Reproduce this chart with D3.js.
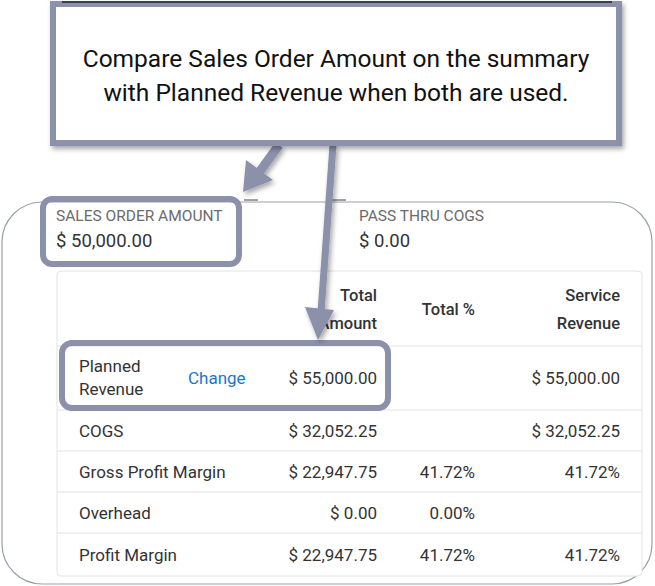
<!DOCTYPE html>
<html lang="en">
<head>
<meta charset="UTF-8">
<script src="https://d3js.org/d3.v7.min.js"></script>
<style>
  html, body { margin: 0; padding: 0; background: #fff; }
  text { font-family: Roboto, "Noto Sans", sans-serif; }
</style>
</head>
<body>
<svg id="chart" width="655" height="586"></svg>
<script>
// table data
var rowLabels = ["Planned Revenue", "COGS", "Gross Profit Margin", "Overhead", "Profit Margin"];
var totalAmount = ["$ 55,000.00", "$ 32,052.25", "$ 22,947.75", "$ 0.00", "$ 22,947.75"];
var totalPct = ["", "", "41.72%", "0.00%", "41.72%"];
var serviceRevenue = ["$ 55,000.00", "$ 32,052.25", "41.72%", "", "41.72%"];
var headers = [["Total", "Amount"], ["Total %"], ["Service", "Revenue"]];
var summaryLabels = ["SALES ORDER AMOUNT", "PASS THRU COGS"];
var summaryValues = ["$ 50,000.00", "$ 0.00"];
var calloutLines = ["Compare Sales Order Amount on the summary", "with Planned Revenue when both are used."];

var svg = d3.select("#chart");
var accent = "#8b90ab";

var defs = svg.append("defs");
var f = defs.append("filter").attr("id", "shadow").attr("x", "-10%").attr("y", "-10%").attr("width", "130%").attr("height", "140%");
f.append("feDropShadow").attr("dx", 2).attr("dy", 3).attr("stdDeviation", 2.5).attr("flood-opacity", 0.35);

// outer card
svg.append("rect").attr("x", 2).attr("y", 202).attr("width", 650).attr("height", 382)
  .attr("rx", 40).attr("fill", "#fff").attr("stroke", "#9aa0a8").attr("stroke-width", 1.2);

// summary row
var sx = d3.scalePoint().domain(summaryLabels).range([56, 359]);
summaryLabels.forEach(function(l, i) {
  svg.append("text").attr("x", sx(l)).attr("y", 221).attr("font-size", 15.5).attr("fill", "#6b6b6b").text(l);
  svg.append("text").attr("x", sx(l)).attr("y", 247).attr("font-size", 18.5).attr("fill", "#333").text(summaryValues[i]);
});

// inner table
var tx0 = 57, tx1 = 642;
svg.append("rect").attr("x", tx0).attr("y", 271).attr("width", tx1 - tx0).attr("height", 305)
  .attr("rx", 4).attr("fill", "#fff").attr("stroke", "#e2e2e2");

var colRight = [377, 475, 620];
headers.forEach(function(h, i) {
  var y0 = h.length === 2 ? 301 : 315;
  h.forEach(function(t, j) {
    svg.append("text").attr("x", colRight[i]).attr("y", y0 + j * 28).attr("text-anchor", "end")
      .attr("font-size", 16.5).attr("font-weight", 500).attr("fill", "#333").text(t);
  });
});

// row bounds
var rowTops = [346, 410, 451, 492, 533, 576];
rowTops.slice(0, 5).forEach(function(y) {
  svg.append("line").attr("x1", tx0).attr("x2", tx1).attr("y1", y).attr("y2", y).attr("stroke", "#e2e2e2");
});

rowLabels.forEach(function(label, i) {
  var cy = (rowTops[i] + rowTops[i + 1]) / 2 + 6;
  if (i === 0) {
    svg.append("text").attr("x", 79).attr("y", 372).attr("font-size", 17).attr("fill", "#333").text("Planned");
    svg.append("text").attr("x", 79).attr("y", 395).attr("font-size", 17).attr("fill", "#333").text("Revenue");
    svg.append("text").attr("x", 188).attr("y", cy).attr("font-size", 17).attr("fill", "#1a78c8").text("Change");
  } else {
    svg.append("text").attr("x", 79).attr("y", cy).attr("font-size", 17).attr("fill", "#333").text(label);
  }
  [totalAmount[i], totalPct[i], serviceRevenue[i]].forEach(function(v, c) {
    svg.append("text").attr("x", colRight[c]).attr("y", cy).attr("text-anchor", "end")
      .attr("font-size", 17).attr("fill", "#333").text(v);
  });
});

// highlight boxes
svg.append("rect").attr("x", 43).attr("y", 199).attr("width", 196).attr("height", 65).attr("rx", 9)
  .attr("fill", "none").attr("stroke", accent).attr("stroke-width", 6);
svg.append("rect").attr("x", 62).attr("y", 343).attr("width", 326).attr("height", 65).attr("rx", 10)
  .attr("fill", "none").attr("stroke", accent).attr("stroke-width", 6);

// faint marks behind the arrows
svg.append("line").attr("x1", 244).attr("x2", 258).attr("y1", 200).attr("y2", 200).attr("stroke", "#444");
svg.append("line").attr("x1", 331).attr("x2", 346).attr("y1", 200).attr("y2", 200).attr("stroke", "#444");

// arrows
var ag = svg.append("g").attr("filter", "url(#shadow)");
ag.append("line").attr("x1", 279).attr("y1", 145).attr("x2", 258).attr("y2", 174)
  .attr("stroke", accent).attr("stroke-width", 9);
ag.append("path").attr("d", "M243,192 L246,160 L273,180 Z").attr("fill", accent);
ag.append("line").attr("x1", 333).attr("y1", 145).attr("x2", 321).attr("y2", 312)
  .attr("stroke", accent).attr("stroke-width", 7);
ag.append("path").attr("d", "M318,340 L305,307 L334,310 Z").attr("fill", accent);

// callout
svg.append("rect").attr("x", 53).attr("y", 4).attr("width", 566).attr("height", 139)
  .attr("fill", "#fff").attr("stroke", accent).attr("stroke-width", 6).attr("filter", "url(#shadow)");
svg.append("line").attr("x1", 62).attr("x2", 612).attr("y1", 2).attr("y2", 2).attr("stroke", "#222").attr("stroke-width", 1.5);
calloutLines.forEach(function(t, i) {
  svg.append("text").attr("x", 336).attr("y", 67 + i * 34).attr("text-anchor", "middle")
    .attr("font-family", "'Open Sans', sans-serif").attr("font-size", 24.5).attr("fill", "#111").text(t);
});
</script>
</body>
</html>
